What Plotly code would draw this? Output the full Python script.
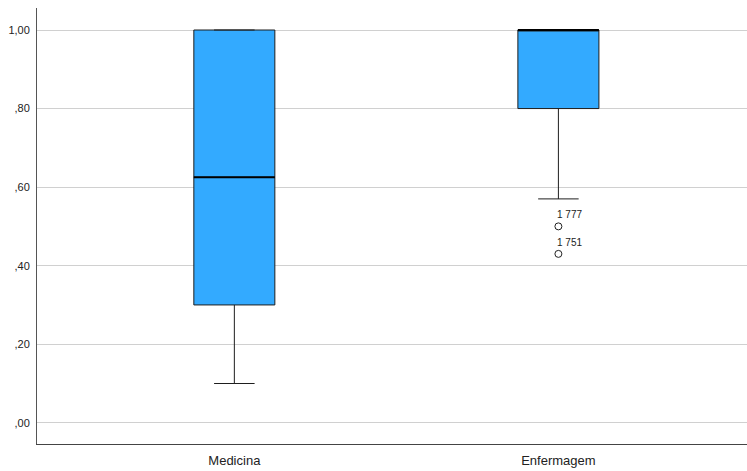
import plotly.graph_objects as go

categories = ["Medicina", "Enfermagem"]
q1 = [0.30, 0.80]
median = [0.625, 1.00]
q3 = [1.00, 1.00]
lower_whisker = [0.10, 0.57]
upper_whisker = [1.00, 1.00]
outlier_cat = [1, 1]
outlier_vals = [0.50, 0.43]
outlier_labels = ["1 777", "1 751"]
ytick_vals = [0.0, 0.2, 0.4, 0.6, 0.8, 1.0]
ytick_text = [",00", ",20", ",40", ",60", ",80", "1,00"]

xpos = list(range(len(categories)))
fig = go.Figure()
for i, c in enumerate(categories):
    fig.add_trace(go.Box(
        x=[xpos[i]], q1=[q1[i]], median=[median[i]], q3=[q3[i]],
        lowerfence=[lower_whisker[i]], upperfence=[upper_whisker[i]],
        width=0.25, whiskerwidth=0.5, fillcolor="#33AAFF",
        line=dict(color="#1e1e1e", width=1), boxpoints=False,
        showlegend=False, hoverinfo="skip"))
    # thicker median line
    fig.add_trace(go.Scatter(
        x=[xpos[i] - 0.125, xpos[i] + 0.125], y=[median[i], median[i]],
        mode="lines", line=dict(color="#000000", width=2),
        showlegend=False, hoverinfo="skip"))

fig.add_trace(go.Scatter(
    x=[xpos[c] for c in outlier_cat], y=outlier_vals, mode="markers",
    marker=dict(symbol="circle-open", size=7, color="#222222", line=dict(width=1)),
    showlegend=False, hoverinfo="skip"))

for c, v, t in zip(outlier_cat, outlier_vals, outlier_labels):
    fig.add_annotation(x=xpos[c], y=v, text=t, showarrow=False,
                       xanchor="left", yanchor="bottom", xshift=-3, yshift=4,
                       font=dict(family="Liberation Sans, Arial", size=10, color="#222"))

fig.update_layout(
    width=747, height=471,
    margin=dict(l=37, r=0, t=8, b=27, autoexpand=False),
    plot_bgcolor="white", paper_bgcolor="white",
    font=dict(family="Liberation Sans, Arial", color="#222"),
)
fig.update_xaxes(
    range=[-0.609, 1.582], tickvals=xpos, ticktext=categories, automargin=False,
    showgrid=False, zeroline=False, showline=True, linecolor="#444", linewidth=1,
    ticks="", tickfont=dict(size=13, color="#222"), ticklabelstandoff=4)
fig.update_yaxes(
    range=[-0.054, 1.056], tickvals=ytick_vals, ticktext=ytick_text, automargin=False,
    showgrid=True, gridcolor="#d0d0d0", gridwidth=1, zeroline=False,
    showline=True, linecolor="#555", linewidth=1, ticks="",
    tickfont=dict(size=11, color="#222"), ticklabelstandoff=4)

fig.write_html("out.html", config={"displayModeBar": False},
               post_script="document.body.style.margin='0';document.body.style.padding='0';")
